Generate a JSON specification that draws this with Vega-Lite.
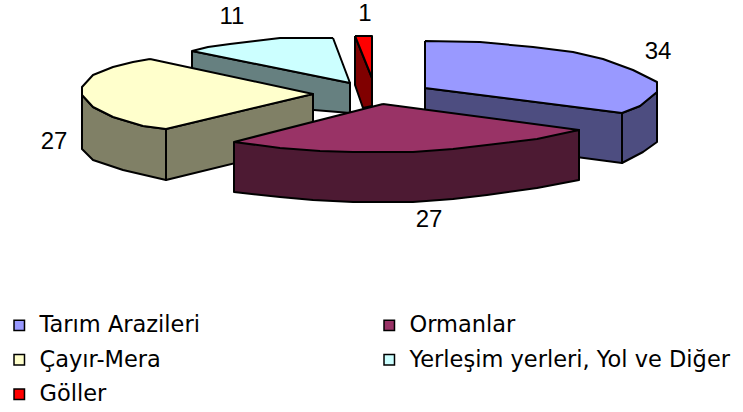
{"$schema":"https://vega.github.io/schema/vega-lite/v6.json","width":743,"height":412,"autosize":{"type":"fit","contains":"padding"},"padding":0,"background":"white","config":{"view":{"stroke":null}},
"datasets":{"faces":[
{"s":"a1","c":"Yerleşim yan","o":1,"x":192,"y":51},{"s":"a1","c":"Yerleşim yan","o":2,"x":350,"y":83},{"s":"a1","c":"Yerleşim yan","o":3,"x":350,"y":113},{"s":"a1","c":"Yerleşim yan","o":4,"x":192,"y":100},{"s":"a1","c":"Yerleşim yan","o":5,"x":192,"y":51},
{"s":"a2","c":"Yerleşim yerleri, Yol ve Diğer","o":1,"x":333,"y":38},{"s":"a2","c":"Yerleşim yerleri, Yol ve Diğer","o":2,"x":350,"y":83},{"s":"a2","c":"Yerleşim yerleri, Yol ve Diğer","o":3,"x":192,"y":51},{"s":"a2","c":"Yerleşim yerleri, Yol ve Diğer","o":4,"x":208,"y":47},{"s":"a2","c":"Yerleşim yerleri, Yol ve Diğer","o":5,"x":230,"y":44},{"s":"a2","c":"Yerleşim yerleri, Yol ve Diğer","o":6,"x":255,"y":41},{"s":"a2","c":"Yerleşim yerleri, Yol ve Diğer","o":7,"x":280,"y":38},{"s":"a2","c":"Yerleşim yerleri, Yol ve Diğer","o":8,"x":333,"y":38},
{"s":"b1","c":"Göller yan","o":1,"x":355,"y":36},{"s":"b1","c":"Göller yan","o":2,"x":372,"y":78},{"s":"b1","c":"Göller yan","o":3,"x":372,"y":106},{"s":"b1","c":"Göller yan","o":4,"x":363,"y":108},{"s":"b1","c":"Göller yan","o":5,"x":355,"y":85},{"s":"b1","c":"Göller yan","o":6,"x":355,"y":36},
{"s":"b2","c":"Göller","o":1,"x":355,"y":36},{"s":"b2","c":"Göller","o":2,"x":372,"y":36},{"s":"b2","c":"Göller","o":3,"x":372,"y":78},{"s":"b2","c":"Göller","o":4,"x":355,"y":36},
{"s":"c1","c":"Çayır-Mera yan","o":1,"x":166,"y":129},{"s":"c1","c":"Çayır-Mera yan","o":2,"x":313,"y":94},{"s":"c1","c":"Çayır-Mera yan","o":3,"x":313,"y":144},{"s":"c1","c":"Çayır-Mera yan","o":4,"x":166,"y":180},{"s":"c1","c":"Çayır-Mera yan","o":5,"x":166,"y":129},
{"s":"c2","c":"Çayır-Mera yan","o":1,"x":82,"y":95},{"s":"c2","c":"Çayır-Mera yan","o":2,"x":82,"y":149},{"s":"c2","c":"Çayır-Mera yan","o":3,"x":93,"y":160},{"s":"c2","c":"Çayır-Mera yan","o":4,"x":123,"y":170},{"s":"c2","c":"Çayır-Mera yan","o":5,"x":166,"y":180},{"s":"c2","c":"Çayır-Mera yan","o":6,"x":166,"y":129},{"s":"c2","c":"Çayır-Mera yan","o":7,"x":143,"y":126},{"s":"c2","c":"Çayır-Mera yan","o":8,"x":113,"y":117},{"s":"c2","c":"Çayır-Mera yan","o":9,"x":93,"y":107},{"s":"c2","c":"Çayır-Mera yan","o":10,"x":82,"y":95},
{"s":"c3","c":"Çayır-Mera","o":1,"x":150,"y":59},{"s":"c3","c":"Çayır-Mera","o":2,"x":313,"y":94},{"s":"c3","c":"Çayır-Mera","o":3,"x":166,"y":129},{"s":"c3","c":"Çayır-Mera","o":4,"x":143,"y":126},{"s":"c3","c":"Çayır-Mera","o":5,"x":113,"y":117},{"s":"c3","c":"Çayır-Mera","o":6,"x":93,"y":107},{"s":"c3","c":"Çayır-Mera","o":7,"x":82,"y":95},{"s":"c3","c":"Çayır-Mera","o":8,"x":82,"y":87},{"s":"c3","c":"Çayır-Mera","o":9,"x":93,"y":75},{"s":"c3","c":"Çayır-Mera","o":10,"x":113,"y":67},{"s":"c3","c":"Çayır-Mera","o":11,"x":133,"y":62},{"s":"c3","c":"Çayır-Mera","o":12,"x":150,"y":59},
{"s":"d1","c":"Tarım yan","o":1,"x":425,"y":88},{"s":"d1","c":"Tarım yan","o":2,"x":622,"y":113},{"s":"d1","c":"Tarım yan","o":3,"x":622,"y":163},{"s":"d1","c":"Tarım yan","o":4,"x":425,"y":137},{"s":"d1","c":"Tarım yan","o":5,"x":425,"y":88},
{"s":"d2","c":"Tarım yan","o":1,"x":622,"y":113},{"s":"d2","c":"Tarım yan","o":2,"x":640,"y":106},{"s":"d2","c":"Tarım yan","o":3,"x":657,"y":92},{"s":"d2","c":"Tarım yan","o":4,"x":657,"y":142},{"s":"d2","c":"Tarım yan","o":5,"x":643,"y":152},{"s":"d2","c":"Tarım yan","o":6,"x":622,"y":163},{"s":"d2","c":"Tarım yan","o":7,"x":622,"y":113},
{"s":"d3","c":"Tarım Arazileri","o":1,"x":425,"y":41},{"s":"d3","c":"Tarım Arazileri","o":2,"x":480,"y":42},{"s":"d3","c":"Tarım Arazileri","o":3,"x":533,"y":47},{"s":"d3","c":"Tarım Arazileri","o":4,"x":573,"y":52},{"s":"d3","c":"Tarım Arazileri","o":5,"x":603,"y":59},{"s":"d3","c":"Tarım Arazileri","o":6,"x":633,"y":70},{"s":"d3","c":"Tarım Arazileri","o":7,"x":657,"y":82},{"s":"d3","c":"Tarım Arazileri","o":8,"x":657,"y":92},{"s":"d3","c":"Tarım Arazileri","o":9,"x":640,"y":106},{"s":"d3","c":"Tarım Arazileri","o":10,"x":622,"y":113},{"s":"d3","c":"Tarım Arazileri","o":11,"x":425,"y":88},{"s":"d3","c":"Tarım Arazileri","o":12,"x":425,"y":41},
{"s":"e1","c":"Ormanlar yan","o":1,"x":234,"y":142},{"s":"e1","c":"Ormanlar yan","o":2,"x":234,"y":192},{"s":"e1","c":"Ormanlar yan","o":3,"x":280,"y":197},{"s":"e1","c":"Ormanlar yan","o":4,"x":313,"y":200},{"s":"e1","c":"Ormanlar yan","o":5,"x":353,"y":202},{"s":"e1","c":"Ormanlar yan","o":6,"x":413,"y":202},{"s":"e1","c":"Ormanlar yan","o":7,"x":453,"y":199},{"s":"e1","c":"Ormanlar yan","o":8,"x":487,"y":195},{"s":"e1","c":"Ormanlar yan","o":9,"x":537,"y":188},{"s":"e1","c":"Ormanlar yan","o":10,"x":579,"y":180},{"s":"e1","c":"Ormanlar yan","o":11,"x":579,"y":130},{"s":"e1","c":"Ormanlar yan","o":12,"x":234,"y":142},
{"s":"e2","c":"Ormanlar","o":1,"x":383,"y":104},{"s":"e2","c":"Ormanlar","o":2,"x":579,"y":130},{"s":"e2","c":"Ormanlar","o":3,"x":537,"y":139},{"s":"e2","c":"Ormanlar","o":4,"x":487,"y":145},{"s":"e2","c":"Ormanlar","o":5,"x":453,"y":149},{"s":"e2","c":"Ormanlar","o":6,"x":413,"y":152},{"s":"e2","c":"Ormanlar","o":7,"x":353,"y":152},{"s":"e2","c":"Ormanlar","o":8,"x":320,"y":151},{"s":"e2","c":"Ormanlar","o":9,"x":280,"y":148},{"s":"e2","c":"Ormanlar","o":10,"x":234,"y":142},{"s":"e2","c":"Ormanlar","o":11,"x":383,"y":104}
],
"labels":[{"part":"Tarım Arazileri","value":34,"x":658,"y":52},{"part":"Ormanlar","value":27,"x":429,"y":220},{"part":"Çayır-Mera","value":27,"x":54,"y":142},{"part":"Yerleşim yerleri, Yol ve Diğer","value":11,"x":232,"y":17},{"part":"Göller","value":1,"x":365,"y":14}]},
"layer":[
{"data":{"name":"faces"},"mark":{"type":"line","filled":true,"stroke":"#000000","strokeWidth":2,"strokeJoin":"round","interpolate":"linear"},
"encoding":{"x":{"field":"x","type":"quantitative","scale":{"domain":[0,743],"nice":false,"zero":false},"axis":null},"y":{"field":"y","type":"quantitative","scale":{"domain":[412,0],"nice":false,"zero":false},"axis":null},"detail":{"field":"s"},"order":{"field":"o","type":"quantitative"},
"fill":{"field":"c","type":"nominal","scale":{"domain":["Tarım Arazileri","Ormanlar","Çayır-Mera","Yerleşim yerleri, Yol ve Diğer","Göller","Tarım yan","Ormanlar yan","Çayır-Mera yan","Yerleşim yan","Göller yan"],"range":["#9999FF","#993366","#FFFFCC","#CCFFFF","#FF0000","#4D4D80","#4D1A33","#808066","#668080","#800000"]},
"legend":{"title":null,"orient":"none","legendX":8,"legendY":314,"direction":"horizontal","columns":2,"gridAlign":"all","values":["Tarım Arazileri","Ormanlar","Çayır-Mera","Yerleşim yerleri, Yol ve Diğer","Göller"],"symbolType":"square","symbolSize":110,"symbolStrokeColor":"#000000","symbolStrokeWidth":1.5,"symbolOpacity":1,"labelFont":"DejaVu Sans","labelFontSize":22.5,"labelColor":"#000000","labelLimit":400,"labelOffset":9,"rowPadding":11.5,"columnPadding":18}}}},
{"data":{"name":"labels"},"mark":{"type":"text","font":"Liberation Sans","fontSize":24,"color":"#000000","align":"center","baseline":"middle"},
"encoding":{"x":{"field":"x","type":"quantitative"},"y":{"field":"y","type":"quantitative"},"text":{"field":"value","type":"quantitative"}}}
]}
